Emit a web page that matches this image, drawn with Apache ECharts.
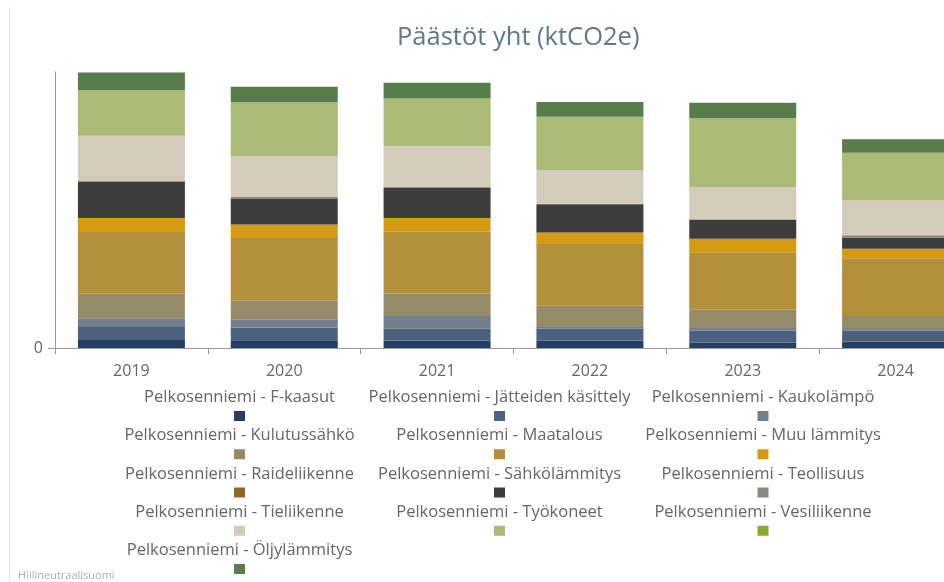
<!DOCTYPE html>
<html>
<head>
<meta charset="utf-8">
<script src="https://cdn.jsdelivr.net/npm/echarts@6/dist/echarts.min.js"></script>
<style>
  html, body { margin: 0; padding: 0; background: #fff; }
  #main { width: 944px; height: 582px; }
</style>
</head>
<body>
<div id="main"></div>
<script>
// vuodet
var years = ['2019', '2020', '2021', '2022', '2023', '2024'];

// sektorit (pinon järjestys alhaalta ylös)
var sectors = [
  'Pelkosenniemi - F-kaasut',
  'Pelkosenniemi - Jätteiden käsittely',
  'Pelkosenniemi - Kaukolämpö',
  'Pelkosenniemi - Kulutussähkö',
  'Pelkosenniemi - Maatalous',
  'Pelkosenniemi - Muu lämmitys',
  'Pelkosenniemi - Raideliikenne',
  'Pelkosenniemi - Sähkölämmitys',
  'Pelkosenniemi - Teollisuus',
  'Pelkosenniemi - Tieliikenne',
  'Pelkosenniemi - Työkoneet',
  'Pelkosenniemi - Vesiliikenne',
  'Pelkosenniemi - Öljylämmitys'
];

var colors = ['#243f62', '#4b617d', '#737f8d', '#958b69', '#b38f3c', '#d39a12', '#8a6a25',
              '#3d3d3d', '#8a8680', '#d3ccbb', '#abba76', '#8aab2e', '#587c4c'];

// päästöt ktCO2e (luettu kuvasta, arvioita)
var fKaasut      = [0.40, 0.38, 0.37, 0.37, 0.27, 0.32];
var jatteet      = [0.65, 0.63, 0.60, 0.60, 0.60, 0.55];
var kaukolampo   = [0.43, 0.42, 0.63, 0.07, 0.13, 0.08];
var kulutussahko = [1.22, 0.93, 1.12, 1.07, 0.90, 0.65];
var maatalous    = [3.08, 3.12, 3.08, 3.07, 2.87, 2.87];
var muuLammitys  = [0.70, 0.67, 0.68, 0.58, 0.67, 0.48];
var raideliikenne= [0, 0, 0, 0, 0, 0];
var sahkolammitys= [1.80, 1.27, 1.52, 1.40, 0.95, 0.55];
var teollisuus   = [0.07, 0.10, 0.03, 0.03, 0.03, 0.12];
var tieliikenne  = [2.22, 2.05, 2.02, 1.68, 1.60, 1.73];
var tyokoneet    = [2.28, 2.67, 2.38, 2.65, 3.43, 2.38];
var vesiliikenne = [0, 0, 0, 0, 0, 0];
var oljylammitys = [0.87, 0.78, 0.78, 0.73, 0.77, 0.67];

var values = [fKaasut, jatteet, kaukolampo, kulutussahko, maatalous, muuLammitys, raideliikenne,
              sahkolammitys, teollisuus, tieliikenne, tyokoneet, vesiliikenne, oljylammitys];

// legendan sarakkeiden keskikohdat
var legendCols = [239.5, 499.5, 763];

var font = 'Open Sans';

var series = [];
var rich = {
  t: { fontFamily: font, fontSize: 16.5, color: '#666', width: 252, align: 'center', lineHeight: 19 }
};
for (var i = 0; i < sectors.length; i++) {
  series.push({
    name: sectors[i],
    type: 'bar',
    stack: 'total',
    barWidth: '70%',
    itemStyle: { color: colors[i] },
    emphasis: { disabled: true },
    data: values[i]
  });
  rich['c' + i] = { backgroundColor: colors[i], width: 11, height: 10, lineHeight: 18, align: 'center' };
}

// yksi legenda per sarake
var legends = [];
for (var c = 0; c < legendCols.length; c++) {
  var names = [];
  for (var j = c; j < sectors.length; j += 3) names.push(sectors[j]);
  legends.push({
    orient: 'vertical',
    left: legendCols[c] - 136,
    top: 384,
    itemGap: 5.25,
    icon: 'none',
    itemWidth: 0,
    itemHeight: 0,
    selectedMode: false,
    data: names,
    formatter: function (name) {
      var k = sectors.indexOf(name);
      return '{t|' + name + '}\n{c' + k + '| }';
    },
    textStyle: { rich: rich }
  });
}

var myChart = echarts.init(document.getElementById('main'));
var option = {
  backgroundColor: '#fff',
  animation: false,
  title: {
    text: 'Päästöt yht (ktCO2e)',
    left: 392,
    top: 20,
    textStyle: { fontFamily: font, fontSize: 25.5, fontWeight: 'normal', color: '#5d7a8a' }
  },
  grid: { left: 55, right: -28, top: 72, bottom: 234, outerBoundsMode: 'none' },
  xAxis: {
    type: 'category',
    data: years,
    axisLine: { lineStyle: { color: '#999' } },
    axisTick: { show: true, length: 6, lineStyle: { color: '#999' } },
    axisLabel: { fontFamily: font, fontSize: 16, color: '#666', margin: 15 }
  },
  yAxis: {
    type: 'value',
    min: 0,
    max: 13.75,
    splitLine: { show: false },
    axisLine: { show: true, lineStyle: { color: '#999' } },
    axisTick: { show: true, length: 7, customValues: [0], lineStyle: { color: '#999' } },
    axisLabel: { fontFamily: font, fontSize: 16, color: '#666', margin: 12, customValues: [0] }
  },
  legend: legends,
  graphic: [
    { type: 'line', shape: { x1: 9.5, y1: 7, x2: 9.5, y2: 582 }, style: { stroke: '#e2e2e2', lineWidth: 1 } },
    { type: 'text', left: 18, top: 570, style: { text: 'Hiilineutraalisuomi', fontFamily: font, fontSize: 11, fill: '#b0b0b0' } }
  ],
  series: series
};
myChart.setOption(option);
</script>
</body>
</html>
